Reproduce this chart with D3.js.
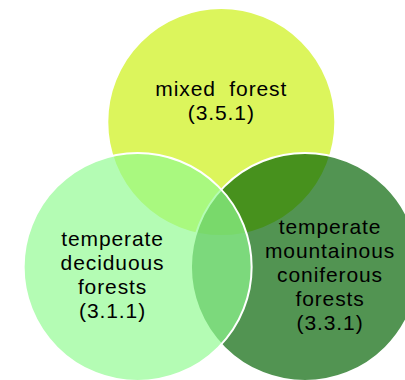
<!DOCTYPE html>
<html>
<head>
<meta charset="utf-8">
<script src="https://cdn.jsdelivr.net/npm/d3@7"></script>
<style>
  html, body { margin: 0; padding: 0; background: #ffffff; }
  svg { display: block; }
</style>
</head>
<body>
<svg id="chart" width="405" height="380"></svg>
<script>
// ---- data ----
const setNames = ["mixed forest", "temperate deciduous forests", "temperate mountainous coniferous forests"];
const setLines = [
  ["mixed  forest"],
  ["temperate", "deciduous", "forests"],
  ["temperate", "mountainous", "coniferous", "forests"]
];
const setCodes = ["(3.5.1)", "(3.1.1)", "(3.3.1)"];
const setSizes = [1, 1, 1];
const setColors = ["#ccf00f", "#91fb91", "#006200"];

// ---- layout ----
const W = 405, H = 380;
const svg = d3.select("#chart");

const cxC = 221.3, cyC = 218.7, spread = 96.6;
const x = d3.scaleLinear().domain([-1, 1]).range([cxC - spread, cxC + spread]);
const y = d3.scaleLinear().domain([-1, 1]).range([cyC - spread, cyC + spread]);
const rScale = d3.scaleSqrt().domain([0, 1]).range([0, 114]);

const sets = setNames.map((name, i) => {
  const ang = (-90 - i * 120) * Math.PI / 180;
  return {
    name, i,
    ux: Math.cos(ang), uy: Math.sin(ang),
    size: setSizes[i],
    color: setColors[i],
    lines: setLines[i].concat([setCodes[i]])
  };
});

// draw order: top, right, left (left ends on top)
const drawOrder = [0, 2, 1];
const ordered = drawOrder.map(k => sets[k]);

svg.append("g")
  .selectAll("circle")
  .data(ordered)
  .join("circle")
  .attr("cx", d => x(d.ux))
  .attr("cy", d => y(d.uy))
  .attr("r", d => rScale(d.size))
  .attr("fill", d => d.color)
  .attr("fill-opacity", 0.68)
  .attr("stroke", "#ffffff")
  .attr("stroke-width", 2);

const fs = 21, lh = 23.8;
const kx = 1.3, ky = 1.2;
const labelG = svg.append("g")
  .attr("font-family", "'Liberation Sans', Arial, sans-serif")
  .attr("font-size", fs)
  .attr("fill", "#000")
  .attr("text-anchor", "middle")
  .style("letter-spacing", "0.9px");

sets.forEach(d => {
  const lx = x(d.ux * kx);
  const ly = y(d.uy * ky) - 2;
  const n = d.lines.length;
  const t = labelG.append("text");
  d.lines.forEach((line, j) => {
    t.append("tspan")
      .attr("x", lx)
      .attr("y", ly - (n - 1) / 2 * lh + 0.35 * fs + j * lh)
      .attr("xml:space", "preserve")
      .text(line);
  });
});
</script>
</body>
</html>
